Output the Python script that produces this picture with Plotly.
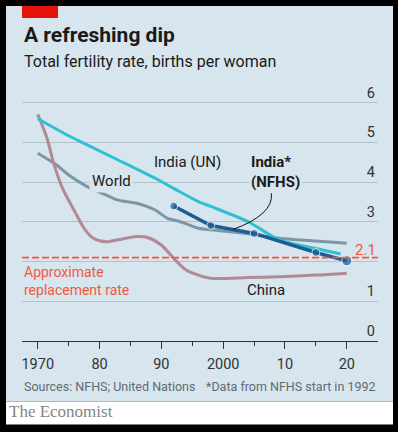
import plotly.graph_objects as go

# ---------------- data ----------------
un_years = [1970, 1975, 1978, 1983, 1989, 1993, 1996, 1998, 2004, 2009, 2015, 2019]
un_tfr = [5.60, 5.17, 4.94, 4.56, 4.10, 3.76, 3.51, 3.39, 3.01, 2.55, 2.33, 2.19]

world_years = [1970, 1973, 1975, 1978, 1981, 1983, 1986, 1989, 1991, 1993, 1996, 1998, 2004, 2009, 2015, 2020]
world_tfr = [4.73, 4.44, 4.18, 3.89, 3.68, 3.55, 3.47, 3.30, 3.09, 3.01, 2.84, 2.80, 2.70, 2.59, 2.52, 2.46]

china_years = [1970, 1971.5, 1972.5, 1974, 1976, 1977.5, 1979, 1981, 1983, 1986, 1987.5, 1990, 1992, 1994, 1996, 1998, 2004, 2009, 2015, 2020]
china_tfr = [5.71, 5.11, 4.52, 3.85, 3.26, 2.84, 2.59, 2.50, 2.55, 2.63, 2.62, 2.42, 2.08, 1.79, 1.66, 1.58, 1.60, 1.62, 1.66, 1.71]

nfhs_years = [1992, 1998, 2005, 2015, 2020]
nfhs_tfr = [3.40, 2.91, 2.71, 2.23, 2.02]

replacement = 2.1
x_tickvals = [1970, 1980, 1990, 2000, 2010, 2020]
x_ticktext = ["1970", "80", "90", "2000", "10", "20"]
y_tickvals = [0, 1, 2, 3, 4, 5, 6]
y_ticktext = ["0", "1", "", "3", "4", "5", "6"]

# ---------------- style ----------------
BG = "#d7e5ee"
GRID = "#b2c2cb"
CYAN = "#2fc0d3"
WORLD = "#7b97a5"
CHINA = "#b38996"
NFHS = "#1b5e95"
RED = "#f05a3c"
TXT = "#1a1a1a"
FONT = "Roboto"

W, H = 398, 432
L, R, T, B = 22, 20, 83, 91
PW, PH = W - L - R, H - T - B


def px(x):
    return (x - L) / PW


def py(y):
    return (H - B - y) / PH


fig = go.Figure()
fig.add_trace(go.Scatter(x=world_years, y=world_tfr, mode="lines",
                         line=dict(color=WORLD, width=3, shape="spline", smoothing=0.8),
                         hoverinfo="skip"))
fig.add_trace(go.Scatter(x=china_years, y=china_tfr, mode="lines",
                         line=dict(color=CHINA, width=3, shape="spline", smoothing=0.8),
                         hoverinfo="skip"))
fig.add_trace(go.Scatter(x=un_years, y=un_tfr, mode="lines",
                         line=dict(color=CYAN, width=3, shape="spline", smoothing=0.6),
                         hoverinfo="skip"))
fig.add_trace(go.Scatter(x=nfhs_years, y=nfhs_tfr, mode="lines+markers",
                         line=dict(color=NFHS, width=3.5),
                         marker=dict(color=NFHS, size=[8, 8, 8, 8, 10]),
                         hoverinfo="skip"))

shapes = [
    dict(type="rect", xref="paper", yref="paper", x0=px(6), x1=px(393), y0=py(401.5), y1=py(6),
         fillcolor=BG, line=dict(width=0), layer="below"),
    dict(type="rect", xref="paper", yref="paper", x0=px(6), x1=px(393), y0=py(424.5), y1=py(401.5),
         fillcolor="white", line=dict(width=0), layer="below"),
    dict(type="rect", xref="paper", yref="paper", x0=px(22), x1=px(58), y0=py(18), y1=py(6),
         fillcolor="#e3120b", line=dict(width=0), layer="above"),
    dict(type="line", xref="paper", yref="y", x0=0, x1=1, y0=replacement, y1=replacement,
         line=dict(color=RED, width=1.7, dash="7px,3px"), layer="above"),
    dict(type="path", xref="x", yref="y", path="M 2007.8,3.72 Q 2008.2,3.19 2001.6,2.81",
         line=dict(color="#111", width=1), layer="above"),
]

annotations = [
    dict(text="<b>A refreshing dip</b>", xref="paper", yref="paper", x=px(22), y=py(35.5),
         xanchor="left", yanchor="middle", showarrow=False,
         font=dict(family=FONT, size=21, color=TXT)),
    dict(text="Total fertility rate, births per woman", xref="paper", yref="paper", x=px(22), y=py(61.4),
         xanchor="left", yanchor="middle", showarrow=False,
         font=dict(family=FONT, size=16, color=TXT)),
    dict(text="Sources: NFHS; United Nations", xref="paper", yref="paper", x=px(22), y=py(386.6),
         xanchor="left", yanchor="middle", showarrow=False,
         font=dict(family=FONT, size=12.5, color="#5f6b73")),
    dict(text="*Data from NFHS start in 1992", xref="paper", yref="paper", x=px(378), y=py(386.6),
         xanchor="right", yanchor="middle", showarrow=False,
         font=dict(family=FONT, size=12.5, color="#5f6b73")),
    dict(text="The Economist", xref="paper", yref="paper", x=px(7), y=py(411),
         xanchor="left", yanchor="middle", showarrow=False,
         font=dict(family="Liberation Serif", size=17, color="#858585")),
    dict(text="India (UN)", x=1994.2, y=4.52, xanchor="center", yanchor="middle", showarrow=False,
         font=dict(family=FONT, size=15, color=TXT)),
    dict(text="<b>India*<br>(NFHS)</b>", x=2004.2, y=4.27, xanchor="left", yanchor="middle",
         align="left", showarrow=False, bgcolor=BG, borderpad=1,
         font=dict(family=FONT, size=15, color=TXT)),
    dict(text="World", x=1982.0, y=4.03, xanchor="center", yanchor="middle", showarrow=False,
         bgcolor=BG, borderpad=2, font=dict(family=FONT, size=15, color=TXT)),
    dict(text="China", x=2006.9, y=1.29, xanchor="center", yanchor="middle", showarrow=False,
         font=dict(family=FONT, size=15, color=TXT)),
    dict(text="Approximate<br>replacement rate", xref="paper", x=0, y=1.52, xanchor="left",
         yanchor="middle", align="left", showarrow=False,
         font=dict(family=FONT, size=14, color=RED)),
    dict(text="2.1", xref="paper", x=1, y=2.29, xanchor="right", yanchor="middle", showarrow=False,
         font=dict(family=FONT, size=15, color=RED)),
]

fig.update_layout(
    width=W, height=H, autosize=False,
    margin=dict(l=L, r=R, t=T, b=B, pad=0),
    paper_bgcolor="black", plot_bgcolor="rgba(0,0,0,0)",
    showlegend=False,
    shapes=shapes, annotations=annotations,
    font=dict(family=FONT, color="#333"),
    xaxis=dict(range=[1967.45, 2025.05], tickvals=x_tickvals, ticktext=x_ticktext,
               ticks="outside", ticklen=7, tickwidth=1.2, tickcolor="#333",
               ticklabelstandoff=2,
               showgrid=False, zeroline=False, showline=True, linecolor="#333", linewidth=1.3,
               tickfont=dict(family=FONT, size=14.5, color="#333"),
               minor=dict(tickvals=[1975, 1985, 1995, 2005, 2015], ticks="outside", ticklen=4,
                          tickwidth=1.2, tickcolor="#333", showgrid=False),
               fixedrange=True),
    yaxis=dict(range=[0, 6.5], side="right", tickvals=y_tickvals, ticktext=y_ticktext,
               ticklabelposition="inside top", ticks="", showgrid=True, gridcolor=GRID, gridwidth=1,
               zeroline=False, showline=False,
               tickfont=dict(family=FONT, size=14.5, color="#333"), fixedrange=True),
)

fig.write_html("out.html", config={"displayModeBar": False},
               post_script="document.body.style.margin='0px';")
